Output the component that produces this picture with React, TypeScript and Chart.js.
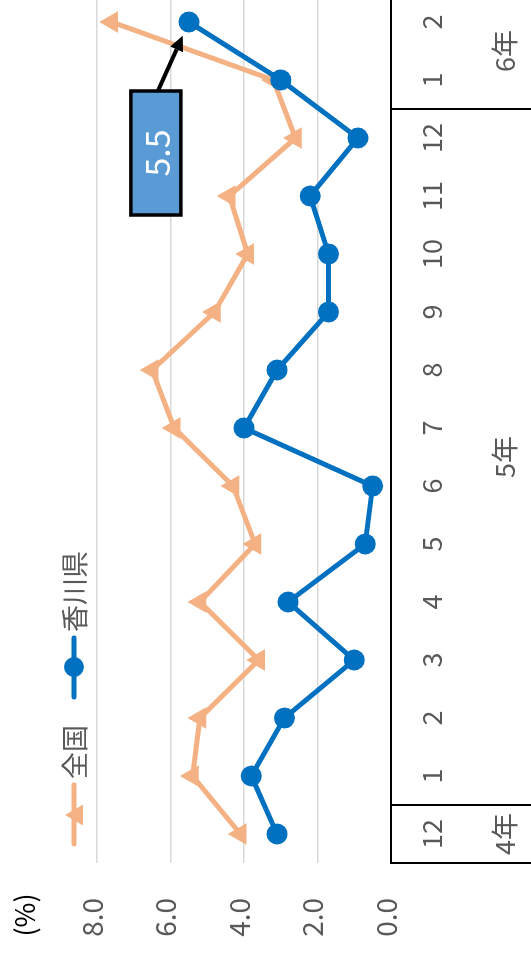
import { useEffect, useRef } from 'react';
import { Chart, registerables } from 'chart.js';

Chart.register(...registerables);

// Month labels along the category axis (4年12月 〜 6年2月)
const months = ['12', '1', '2', '3', '4', '5', '6', '7', '8', '9', '10', '11', '12', '1', '2'];
// Year groups drawn on the second row of the category axis
const yearLabels = ['4年', '5年', '6年'];
const yearSpans = [1, 12, 2];

// Series values (%)
const national = [4.1, 5.4, 5.2, 3.6, 5.2, 3.7, 4.3, 5.9, 6.5, 4.8, 3.9, 4.4, 2.6, 3.2, 7.6];
const kagawa = [3.1, 3.8, 2.9, 1.0, 2.8, 0.7, 0.5, 4.0, 3.1, 1.7, 1.7, 2.2, 0.9, 3.0, 5.5];

const seriesNames = ['全国', '香川県'];
const yTicks = [0, 2, 4, 6, 8];

const FONT = '"Noto Sans CJK JP", "Noto Sans", sans-serif';
const TEXT = '#595959';
const ORANGE = '#F4B183';
const BLUE = '#0070C0';

const W = 980;
const H = 531;

function triangle(ctx: CanvasRenderingContext2D, x: number, y: number, r: number) {
  ctx.beginPath();
  for (let k = 0; k < 3; k++) {
    const a = (k * 2 * Math.PI) / 3;
    const px = x + Math.sin(a) * r;
    const py = y - Math.cos(a) * r;
    if (k === 0) ctx.moveTo(px, py);
    else ctx.lineTo(px, py);
  }
  ctx.closePath();
  ctx.fill();
}

const overlay = {
  id: 'overlay',
  afterDraw(chart: any) {
    const { ctx, chartArea, scales } = chart;
    const x = scales.x;
    const step = x.getPixelForValue(1) - x.getPixelForValue(0);
    ctx.save();

    // first row: months
    ctx.fillStyle = TEXT;
    ctx.font = `27px ${FONT}`;
    ctx.textAlign = 'center';
    ctx.textBaseline = 'middle';
    months.forEach((m, i) => ctx.fillText(m, x.getPixelForValue(i), 432));

    // second row: year groups with separators
    ctx.strokeStyle = '#000';
    ctx.lineWidth = 2;
    let start = 0;
    yearLabels.forEach((label, g) => {
      const end = start + yearSpans[g] - 1;
      const left = x.getPixelForValue(start) - step / 2;
      const right = x.getPixelForValue(end) + step / 2;
      ctx.fillText(label, (left + right) / 2, 505);
      ctx.beginPath();
      ctx.moveTo(left, chartArea.bottom);
      ctx.lineTo(left, H);
      ctx.stroke();
      start = end + 1;
    });

    // unit label
    ctx.fillStyle = '#000';
    ctx.font = `27px ${FONT}`;
    ctx.fillText('(%)', 42, 25);

    // legend
    const ly = 74;
    const items = [
      { name: seriesNames[0], color: ORANGE, x0: 113, style: 'triangle' },
      { name: seriesNames[1], color: BLUE, x0: 260, style: 'circle' },
    ];
    items.forEach((it) => {
      ctx.strokeStyle = it.color;
      ctx.fillStyle = it.color;
      ctx.lineWidth = 5;
      ctx.lineCap = 'round';
      ctx.beginPath();
      ctx.moveTo(it.x0, ly);
      ctx.lineTo(it.x0 + 59, ly);
      ctx.stroke();
      if (it.style === 'triangle') {
        triangle(ctx, it.x0 + 29, ly + 3, 12);
      } else {
        ctx.beginPath();
        ctx.arc(it.x0 + 30, ly, 10, 0, Math.PI * 2);
        ctx.fill();
      }
      ctx.fillStyle = TEXT;
      ctx.textAlign = 'left';
      ctx.font = `27px ${FONT}`;
      ctx.fillText(it.name, it.x0 + 65, ly + 1);
    });

    // callout for the latest 香川県 value
    const last = kagawa.length - 1;
    const meta = chart.getDatasetMeta(1);
    const pt = meta.data[last];
    const bw = 124;
    const bh = 50;
    const bx = pt.x - 69 - bw;
    const by = pt.y - 33 - bh / 2;
    // arrow
    const sx = bx + bw;
    const sy = pt.y - 31;
    const dx = pt.x - sx;
    const dy = pt.y - sy;
    const len = Math.hypot(dx, dy);
    const ux = dx / len;
    const uy = dy / len;
    const tipX = pt.x - ux * 15;
    const tipY = pt.y - uy * 15;
    const headL = 15;
    const headW = 7;
    ctx.strokeStyle = '#000';
    ctx.fillStyle = '#000';
    ctx.lineWidth = 4;
    ctx.lineCap = 'butt';
    ctx.beginPath();
    ctx.moveTo(sx, sy);
    ctx.lineTo(tipX - ux * headL, tipY - uy * headL);
    ctx.stroke();
    ctx.beginPath();
    ctx.moveTo(tipX, tipY);
    ctx.lineTo(tipX - ux * headL - uy * headW, tipY - uy * headL + ux * headW);
    ctx.lineTo(tipX - ux * headL + uy * headW, tipY - uy * headL - ux * headW);
    ctx.closePath();
    ctx.fill();
    // box
    ctx.fillStyle = '#5B9BD5';
    ctx.fillRect(bx, by, bw, bh);
    ctx.lineWidth = 3.5;
    ctx.strokeRect(bx, by, bw, bh);
    ctx.fillStyle = '#fff';
    ctx.textAlign = 'center';
    ctx.font = `34px ${FONT}`;
    ctx.fillText(kagawa[last].toFixed(1), bx + bw / 2, by + bh / 2 + 1);

    ctx.restore();
  },
};

export default function App() {
  const ref = useRef<HTMLCanvasElement>(null);

  useEffect(() => {
    const canvas = ref.current;
    if (!canvas) return;
    const chart = new Chart(canvas, {
      type: 'line',
      data: {
        labels: months,
        datasets: [
          {
            label: seriesNames[0],
            data: national,
            borderColor: ORANGE,
            backgroundColor: ORANGE,
            borderWidth: 5,
            pointStyle: 'triangle',
            pointRadius: 12.5,
            pointBorderWidth: 0,
            pointBackgroundColor: ORANGE,
            order: 1,
          },
          {
            label: seriesNames[1],
            data: kagawa,
            borderColor: BLUE,
            backgroundColor: BLUE,
            borderWidth: 5,
            pointStyle: 'circle',
            pointRadius: 10.5,
            pointBorderWidth: 0,
            pointBackgroundColor: BLUE,
            order: 0,
          },
        ],
      },
      options: {
        responsive: false,
        devicePixelRatio: 1,
        animation: false,
        layout: { padding: { top: 97, right: 16, left: 0, bottom: 0 } },
        plugins: {
          legend: { display: false },
          tooltip: { enabled: false },
        },
        scales: {
          x: {
            type: 'category',
            offset: true,
            grid: { display: false },
            border: { display: true, color: '#000', width: 2, z: 1 },
            ticks: { display: false },
            afterFit: (s: any) => {
              s.height = 140;
            },
          },
          y: {
            min: 0,
            max: 8,
            afterBuildTicks: (s: any) => {
              s.ticks = yTicks.map((v) => ({ value: v }));
            },
            grid: { color: '#D9D9D9', lineWidth: 1.5, drawTicks: false },
            border: { display: false },
            ticks: {
              padding: 35,
              labelOffset: -5,
              color: TEXT,
              font: { family: FONT, size: 28 },
              callback: (v: any) => Number(v).toFixed(1),
            },
            afterFit: (s: any) => {
              s.width = 94;
            },
          },
        },
      },
      plugins: [overlay],
    });
    return () => chart.destroy();
  }, []);

  return (
    <div
      style={{
        position: 'fixed',
        left: 0,
        top: 0,
        width: W,
        height: H,
        transformOrigin: '0 0',
        transform: 'translate(0px, 957px) rotate(-90deg)',
        background: '#fff',
      }}
    >
      <canvas ref={ref} width={W} height={H} style={{ width: W, height: H, display: 'block' }} />
    </div>
  );
}
